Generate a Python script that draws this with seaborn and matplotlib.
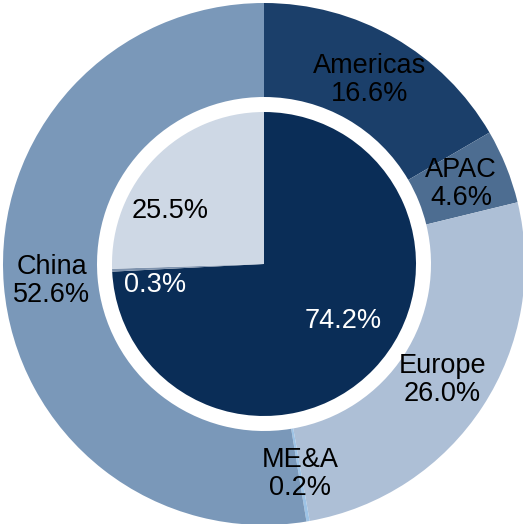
import matplotlib
matplotlib.use("Agg")
import matplotlib.pyplot as plt
import seaborn as sns
import numpy as np

sns.set_theme(style="white")
plt.rcParams['font.family'] = ['Liberation Sans', 'DejaVu Sans']

# outer ring data
regions = ["Americas", "APAC", "Europe", "ME&A", "China"]
region_share = [16.6, 4.6, 26.0, 0.2, 52.6]
region_colors = ["#1B3F6A", "#4D6D91", "#ADBFD6", "#9DC3E6", "#7A98B9"]

# inner pie data
inner_share = [74.2, 0.3, 25.5]
inner_colors = ["#0A2D57", "#7F93AE", "#CED8E5"]
inner_text_colors = ["white", "white", "black"]

fig = plt.figure(figsize=(5.23, 5.24), dpi=100)
ax = fig.add_axes([0, 0, 1, 1])

R_OUT = 261
RING_W = 94
R_IN = 152
FS = 19.5

outer_labels = [f"{r}\n{v:.1f}%" for r, v in zip(regions, region_share)]
wedges, texts = ax.pie(region_share, colors=region_colors, startangle=90,
                       counterclock=False, radius=R_OUT, labels=outer_labels,
                       labeldistance=0.815,
                       wedgeprops=dict(width=RING_W, linewidth=0),
                       textprops=dict(fontsize=FS, color="black"))
for t in texts:
    t.set_horizontalalignment("center")
    t.set_verticalalignment("center")
    t.set_linespacing(1.1)

wedges2, texts2 = ax.pie(inner_share, colors=inner_colors, startangle=90,
                         counterclock=False, radius=R_IN,
                         wedgeprops=dict(linewidth=0))

# inner label placement (angle deg, radius fraction)
inner_label_pos = [(-36, 0.64), (191, 0.73), (150.6, 0.71)]
for v, (a, r), c in zip(inner_share, inner_label_pos, inner_text_colors):
    ax.text(R_IN * r * np.cos(np.radians(a)), R_IN * r * np.sin(np.radians(a)),
            f"{v:.1f}%", ha="center", va="center", fontsize=FS, color=c)

ax.set_xlim(-264, 259)
ax.set_ylim(-260, 264)
ax.set_aspect("equal")
ax.axis("off")
fig.savefig("out.png", dpi=100)
